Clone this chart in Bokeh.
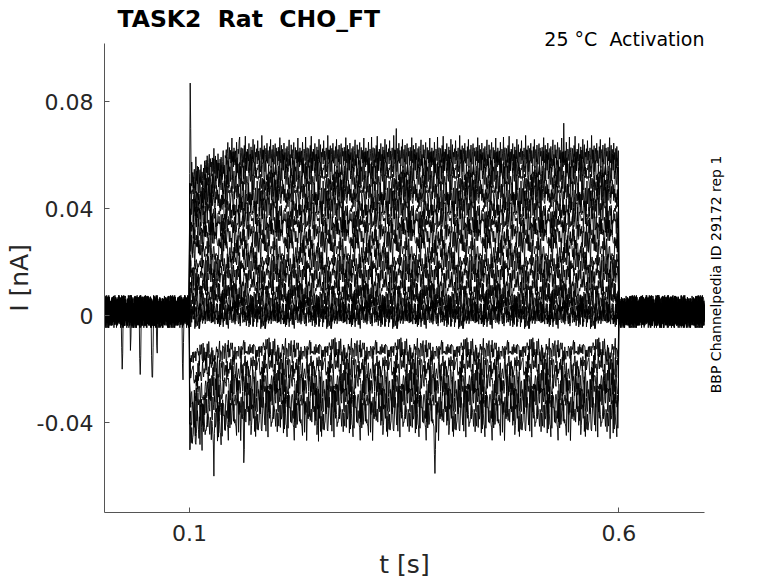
import math
import numpy as np
from bokeh.plotting import figure
from bokeh.models import FixedTicker, LinearAxis, Title
from bokeh.embed import file_html
from bokeh.resources import INLINE

# ---------------- data ----------------
t_start, t_end, dt = 0.0, 0.7, 0.0006            # s, sampling of the traces
step_on, step_off = 0.1, 0.6                      # s, voltage-step timing
phase_start = [0.1, 0.118, 0.142]                 # s, early / middle / steady phase of the step
holding_level = 0.0015                            # nA, current at holding potential
holding_noise = 0.0062                            # nA, noise amplitude at holding

# current in each phase of the step for each sweep (nA)
early_level = [0.052, 0.049, 0.045, 0.041, 0.037, 0.033, 0.028, 0.024, 0.019, 0.014,
               0.010, 0.006, 0.003, 0.000, 0.000, -0.015, -0.022, -0.029, -0.036, -0.042]
mid_level = [0.056, 0.052, 0.048, 0.043, 0.039, 0.034, 0.029, 0.025, 0.020, 0.015,
             0.010, 0.006, 0.003, 0.000, 0.000, -0.014, -0.020, -0.027, -0.034, -0.040]
step_level = [0.060, 0.055, 0.050, 0.045, 0.040, 0.035, 0.030, 0.025, 0.020, 0.015,
              0.010, 0.006, 0.003, 0.000, 0.000, -0.013, -0.019, -0.025, -0.031, -0.037]
# noise amplitude during the step (nA)
step_noise = [0.0075, 0.0070, 0.0070, 0.0070, 0.0070, 0.0065, 0.0065, 0.0065, 0.0060, 0.0060,
              0.0060, 0.0060, 0.0055, 0.0050, 0.0050, 0.0048, 0.0065, 0.0080, 0.0090, 0.0100]
noise_offset = [0, 17, 41, 66, 90, 113, 5, 29, 53, 78, 101, 124, 11, 35, 60, 84, 107, 23, 47, 72]
noise_stride = [1, 3, 5, 7, 9, 11, 13, 15, 17, 19, 21, 23, 25, 27, 29, 31, 33, 35, 37, 39]

# recording noise, read as relative deviations
noise_pattern = [
    0.22, -0.41, 0.65, -0.12, -0.83, 0.31, 0.08, -0.27, 0.91, -0.48, 0.15, 0.38, -0.23, -0.61, 0.34, 0.03,
    -0.36, 0.49, -0.06, 0.95, -0.43, 0.18, -0.78, 0.31, 0.11, -0.29, 0.59, -0.50, 0.04, -0.14, 0.42, -0.64,
    0.26, -0.18, 0.80, -0.35, 0.01, 0.53, -0.96, 0.15, -0.09, 0.33, -0.44, 0.73, -0.25, 0.21, -0.55, 0.10,
    0.37, -0.13, -0.66, 0.99, -0.20, 0.28, -0.36, 0.14, 0.48, -0.82, 0.03, 0.35, -0.30, 0.60, -0.40, 0.24,
    -0.08, -0.54, 0.43, -0.16, 0.79, -0.62, 0.07, 0.29, -0.34, 0.51, -0.23, -0.45, 0.17, 0.58, -0.97, 0.37,
    -0.05, 0.20, -0.51, 0.40, -0.28, 0.02, 0.88, -0.17, -0.38, 0.50, -0.75, 0.30, 0.09, -0.42, 0.61, -0.22,
    0.14, -0.84, 0.34, -0.31, 0.44, -0.10, -0.53, 0.23, 0.77, -0.37, 0.04, -0.63, 0.52, -0.14, 0.28, -0.46,
    0.10, 0.64, -0.27, -0.69, 0.39, -0.19, 0.25, -0.39, 0.08, 0.86, -0.32, 0.18, -0.58, 0.37, -0.04, -0.49,
]

# isolated spikes / dips: sweep index, time (s), consecutive current samples (nA)
event_trace = [0, 0, 0, 0, 15, 17, 19, 16, 18, 19, 18, 19, 18, 19, 17, 19, 16, 14]
event_time = [0.1005, 0.158, 0.341, 0.536, 0.021, 0.042, 0.056, 0.092, 0.031,
              0.1005, 0.107, 0.128, 0.163, 0.385, 0.250, 0.590, 0.470, 0.062]
event_values = [[0.087, 0.070], [0.0655], [0.070], [0.072],
                [-0.012, -0.020, -0.014], [-0.016, -0.022, -0.015], [-0.015, -0.023, -0.023, -0.012],
                [-0.018, -0.024, -0.010], [-0.013, -0.008],
                [-0.050, -0.040], [-0.045], [-0.048, -0.060, -0.044], [-0.055, -0.050], [-0.052, -0.059, -0.050],
                [-0.047], [-0.046], [-0.034], [-0.011, -0.014]]

x_ticks = [0.1, 0.6]
x_tick_labels = ["0.1", "0.6"]
y_ticks = [-0.04, 0, 0.04, 0.08]
y_tick_labels = ["-0.04", "0", "0.04", "0.08"]

title_text = "TASK2 \u00a0Rat \u00a0CHO_FT"
condition_text = "25 \u00b0C \u00a0Activation"
id_text = "BBP Channelpedia ID 29172 rep 1"
id_pos = -0.029   # nA, where the side note starts
x_label = "t [s]"
y_label = "I [nA]"

# ---------------- build sweeps ----------------
t = np.round(np.arange(t_start, t_end + dt / 2, dt), 6)
pat = np.array(noise_pattern)
N = len(pat)
in_step = (t >= step_on) & (t < step_off)
xs, ys = [], []
for i in range(len(step_level)):
    idx = (np.arange(len(t)) * noise_stride[i] + noise_offset[i]) % N
    lvl = np.where(t < phase_start[1], early_level[i],
                   np.where(t < phase_start[2], mid_level[i], step_level[i]))
    base = np.where(in_step, lvl, holding_level)
    amp = np.where(in_step, step_noise[i], holding_noise)
    xs.append(t)
    ys.append(base + amp * pat[idx])
for tr, te, vals in zip(event_trace, event_time, event_values):
    k = int(round(te / dt))
    for j, v in enumerate(vals):
        ys[tr][k + j] = v

# ---------------- figure ----------------
FONT = "DejaVu Sans"
AX = "#555555"
TXT = "#262626"

p = figure(width=778, height=583, x_range=(0.001, 0.6997), y_range=(-0.0736, 0.1018),
           output_backend="svg", toolbar_location=None, title=None,
           min_border_left=104, min_border_right=74, min_border_top=43, min_border_bottom=71)
p.outline_line_color = None
p.grid.visible = False
p.background_fill_color = "white"
p.border_fill_color = "white"

p.multi_line(xs, ys, line_color="black", line_width=0.9)

p.xaxis.ticker = FixedTicker(ticks=x_ticks)
p.xaxis.major_label_overrides = dict(zip(x_ticks, x_tick_labels))
p.yaxis.ticker = FixedTicker(ticks=y_ticks)
p.yaxis.major_label_overrides = dict(zip(y_ticks, y_tick_labels))
for ax in (p.xaxis, p.yaxis):
    ax.axis_line_color = AX
    ax.axis_line_width = 1
    ax.major_tick_line_color = AX
    ax.major_tick_in = 5
    ax.major_tick_out = 0
    ax.minor_tick_line_color = None
    ax.major_label_text_font = FONT
    ax.major_label_text_font_size = "22px"
    ax.major_label_text_color = TXT
    ax.axis_label_text_font = FONT
    ax.axis_label_text_font_size = "25px"
    ax.axis_label_text_font_style = "normal"
    ax.axis_label_text_color = TXT
p.xaxis.major_label_standoff = 12
p.yaxis.major_label_standoff = 11
p.xaxis.axis_label = x_label
p.yaxis.axis_label = y_label
p.xaxis.axis_label_standoff = 6
p.yaxis.axis_label_standoff = 0

# side note on the right, written bottom-to-top
side = LinearAxis(ticker=FixedTicker(ticks=[id_pos]), major_label_overrides={id_pos: id_text},
                  major_label_orientation=math.pi / 2, major_label_standoff=6,
                  axis_line_color=None, major_tick_line_color=None, minor_tick_line_color=None,
                  major_label_text_font=FONT, major_label_text_font_size="14px",
                  major_label_text_color="black")
p.add_layout(side, "right")

cond = Title(text=condition_text, align="right", offset=0, text_font=FONT, text_font_size="19px",
             text_font_style="normal", text_color="black", standoff=-13)
main = Title(text=title_text, align="left", offset=13, text_font=FONT, text_font_size="23.5px",
             text_font_style="bold", text_color="black", standoff=0)
p.add_layout(cond, "above")
p.add_layout(main, "above")

open("out.html", "w").write(file_html(p, INLINE))
